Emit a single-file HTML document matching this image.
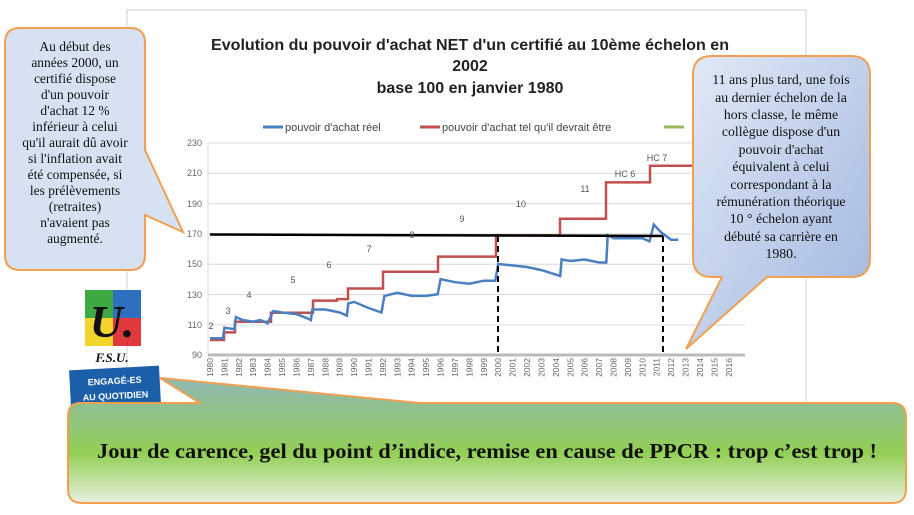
<!DOCTYPE html>
<html><head><meta charset="utf-8"><style>
body{margin:0;width:914px;height:510px;overflow:hidden;background:#fff;font-family:"Liberation Sans",sans-serif}
</style></head><body>
<svg width="914" height="510" xmlns="http://www.w3.org/2000/svg">
<defs>
<linearGradient id="rb" x1="0" y1="0" x2="1" y2="1"><stop offset="0" stop-color="#e2eaf6"/><stop offset="1" stop-color="#9fb6df"/></linearGradient>
<linearGradient id="gb" x1="0" y1="0" x2="0" y2="1"><stop offset="0" stop-color="#8fb8b4"/><stop offset="0.6" stop-color="#92cf55"/><stop offset="1" stop-color="#e8f0e0"/></linearGradient>
</defs>
<rect x="127" y="10" width="679" height="400" fill="#fff" stroke="#d0d0d0"/>
<g font-weight="bold" font-size="16" fill="#222" text-anchor="middle">
<text x="470" y="50" textLength="518" lengthAdjust="spacingAndGlyphs">Evolution du pouvoir d'achat NET d'un certifié au 10ème échelon en</text>
<text x="470" y="71">2002</text>
<text x="470" y="93">base 100 en janvier 1980</text>
</g>
<g font-size="11" fill="#444">
<line x1="263" y1="127" x2="283" y2="127" stroke="#4a7fc1" stroke-width="3"/><text x="285" y="131">pouvoir d'achat réel</text>
<line x1="420" y1="127" x2="440" y2="127" stroke="#c0504d" stroke-width="3"/><text x="442" y="131">pouvoir d'achat tel qu'il devrait être</text>
<line x1="664" y1="127" x2="684" y2="127" stroke="#9bbb59" stroke-width="3"/>
</g>
<g stroke="#d9d9d9" stroke-width="1">
<line x1="208" y1="143" x2="745" y2="143"/><line x1="208" y1="173.3" x2="745" y2="173.3"/><line x1="208" y1="203.6" x2="745" y2="203.6"/><line x1="208" y1="233.9" x2="745" y2="233.9"/><line x1="208" y1="264.3" x2="745" y2="264.3"/><line x1="208" y1="294.6" x2="745" y2="294.6"/><line x1="208" y1="324.9" x2="745" y2="324.9"/>
<line x1="208" y1="143" x2="208" y2="355"/>
</g>
<line x1="208" y1="355" x2="745" y2="355" stroke="#bbb" stroke-width="3"/>
<g font-size="9" fill="#666" text-anchor="end">
<text x="202" y="146">230</text><text x="202" y="176">210</text><text x="202" y="207">190</text><text x="202" y="237">170</text><text x="202" y="267">150</text><text x="202" y="298">130</text><text x="202" y="328">110</text><text x="202" y="358">90</text>
</g>
<g font-size="8.5" fill="#666" id="xl"></g>
<polyline fill="none" stroke="#c0504d" stroke-width="2.5" points="210,340 224,340 224,332.4 235,332.4 235,321.8 271,321.8 271,312.7 313,312.7 313,300.6 337,300.6 337,299.1 348,299.1 348,288.5 383,288.5 383,271.8 438,271.8 438,256.6 496,256.6 496,235.4 560,235.4 560,218.7 606,218.7 606,182.4 650,182.4 650,165.7 700,165.7"/>
<polyline fill="none" stroke="#4a7fc1" stroke-width="2.5" id="blue"/>
<line x1="210" y1="234.5" x2="663" y2="236" stroke="#000" stroke-width="2.5"/>
<line x1="498" y1="236" x2="498" y2="355" stroke="#000" stroke-width="2" stroke-dasharray="6,4"/>
<line x1="663" y1="236" x2="663" y2="355" stroke="#000" stroke-width="2" stroke-dasharray="6,4"/>
<g font-size="9" fill="#555" text-anchor="middle">
<text x="211" y="329">2</text><text x="228" y="314">3</text><text x="249" y="298">4</text><text x="293" y="283">5</text><text x="329" y="268">6</text><text x="369" y="252">7</text><text x="412" y="238">8</text><text x="462" y="222">9</text><text x="521" y="207">10</text><text x="585" y="192">11</text><text x="625" y="177">HC 6</text><text x="657" y="161">HC 7</text>
</g>
<!-- left bubble -->
<path d="M20,28 H130 Q145,28 145,43 V150 L183,232 L145,215 V255 Q145,270 130,270 H20 Q5,270 5,255 V43 Q5,28 20,28 Z" fill="#d6e2f1" stroke="#f0a050" stroke-width="2"/>
<g font-family="Liberation Serif,serif" font-size="13.5" fill="#111" text-anchor="middle">
<text x="75" y="51">Au début des</text><text x="75" y="67">années 2000, un</text><text x="75" y="83">certifié dispose</text><text x="75" y="99">d'un pouvoir</text><text x="75" y="115">d'achat 12 %</text><text x="75" y="131">inférieur à celui</text><text x="75" y="147">qu'il aurait dû avoir</text><text x="75" y="163">si l'inflation avait</text><text x="75" y="179">été compensée, si</text><text x="75" y="195">les prélèvements</text><text x="75" y="211">(retraites)</text><text x="75" y="227">n'avaient pas</text><text x="75" y="243">augmenté.</text>
</g>
<!-- right bubble -->
<path d="M712,56 H851 Q870,56 870,75 V258 Q870,277 851,277 H767 L686,349 L722,277 H712 Q693,277 693,258 V75 Q693,56 712,56 Z" fill="url(#rb)" stroke="#f0a050" stroke-width="2"/>
<g font-family="Liberation Serif,serif" font-size="13.8" fill="#111" text-anchor="middle">
<text x="781" y="84">11 ans plus tard, une fois</text><text x="781" y="102">au dernier échelon de la</text><text x="781" y="119">hors classe, le même</text><text x="781" y="136">collègue dispose d'un</text><text x="781" y="154">pouvoir d'achat</text><text x="781" y="171">équivalent à celui</text><text x="781" y="189">correspondant à la</text><text x="781" y="206">rémunération théorique</text><text x="781" y="223">10 ° échelon ayant</text><text x="781" y="241">débuté sa carrière en</text><text x="781" y="258">1980.</text>
</g>
<!-- logo -->
<rect x="85" y="290" width="28" height="28" fill="#3ea843"/><rect x="113" y="290" width="28" height="28" fill="#2f6fc0"/>
<rect x="85" y="318" width="28" height="28" fill="#f2d42c"/><rect x="113" y="318" width="28" height="28" fill="#e03a3e"/>
<text x="112" y="337" font-family="Liberation Serif,serif" font-style="italic" font-weight="bold" font-size="46" text-anchor="middle" fill="#111">U.</text>
<text x="112" y="362" font-family="Liberation Serif,serif" font-style="italic" font-weight="bold" font-size="13" text-anchor="middle" fill="#111">F.S.U.</text>
<g transform="rotate(-3 115 387)"><rect x="70" y="368" width="90" height="40" fill="#1b5fa8"/>
<text x="115" y="384" font-size="9" fill="#fff" text-anchor="middle" font-weight="bold">ENGAGÉ-ES</text><text x="115" y="399" font-size="9" fill="#fff" text-anchor="middle" font-weight="bold">AU QUOTIDIEN</text></g>
<!-- banner -->
<path d="M80,403 H200 L160,378 L420,403 H892 Q906,403 906,417 V489 Q906,503 892,503 H82 Q68,503 68,489 V417 Q68,403 80,403 Z" fill="url(#gb)" stroke="#f0a050" stroke-width="2"/>
<text x="487" y="458" font-family="Liberation Serif,serif" font-weight="bold" font-size="21" text-anchor="middle" fill="#111" textLength="780" lengthAdjust="spacingAndGlyphs">Jour de carence, gel du point d’indice, remise en cause de PPCR : trop c’est trop !</text>
</svg>
<script>
var g=document.getElementById('xl'),s='';
for(var i=0;i<=36;i++){var x=210+i*14.41;s+='<text transform="translate('+(x+3)+',358) rotate(-90)" text-anchor="end">'+(1980+i)+'</text>';}
g.innerHTML=s;
var d=[[0,101],[0.9,101],[1,108],[1.7,107],[1.8,115],[2.3,113],[3,112],[3.5,113],[4,111],[4.2,115],[4.4,119],[5,118],[6,117],[6.8,114],[7,113],[7.1,120],[8,120],[9,118],[9.5,116],[9.6,124],[10,125],[11,121],[11.9,118],[12.1,129],[13,131],[14,129],[15,129],[15.8,130],[16,140],[17,138],[18,137],[19,139],[19.8,139],[20,150],[21,149],[22,148],[23,146],[24,143],[24.3,142],[24.4,153],[25,152],[26,153],[27,151],[27.5,151],[27.6,169],[28,167],[29,167],[30,167],[30.5,165],[30.8,176],[31.3,171],[32,166],[32.5,166]];
document.getElementById('blue').setAttribute('points',d.map(function(p){return (210+p[0]*14.41).toFixed(1)+','+(355-(p[1]-90)*1.5164).toFixed(1)}).join(' '));
</script>
</body></html>
